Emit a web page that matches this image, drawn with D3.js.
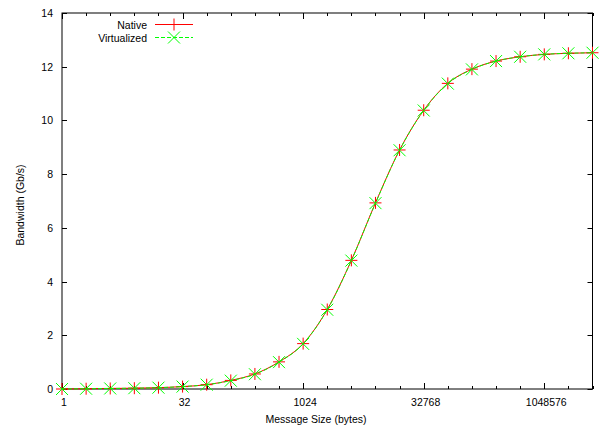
<!DOCTYPE html>
<html><head><meta charset="utf-8">
<script src="https://cdn.jsdelivr.net/npm/d3@7"></script>
<style>body{margin:0;background:#fff}text{font-family:"Liberation Sans",Arial,sans-serif;font-size:10.5px;fill:#000}</style>
</head><body><svg id="c" width="600" height="428"></svg>
<script>
const exponents = [0,1,2,3,4,5,6,7,8,9,10,11,12,13,14,15,16,17,18,19,20,21,22];
const sizes = exponents.map(e => Math.pow(2, e));
const nativeBW = [0.0,0.01,0.02,0.03,0.05,0.09,0.16,0.32,0.56,1.01,1.69,2.96,4.79,6.93,8.90,10.38,11.38,11.91,12.21,12.37,12.46,12.50,12.52];
const virtBW   = [0.0,0.01,0.02,0.03,0.05,0.09,0.16,0.31,0.55,1.00,1.68,2.95,4.78,6.92,8.89,10.37,11.37,11.90,12.21,12.37,12.46,12.50,12.52];
const xTickVals = [1,32,1024,32768,1048576];
const yTickVals = [0,2,4,6,8,10,12,14];
const seriesNames = ["Native","Virtualized"];

const svg = d3.select("#c");
const L=62,R=592.5,T=13,B=389;
const x = d3.scaleLog().base(2).domain([1,Math.pow(2,22)]).range([L,R]);
const y = d3.scaleLinear().domain([0,14]).range([B,T]);
const g = svg.append("g");

g.append("rect").attr("x",L).attr("y",T).attr("width",R-L).attr("height",B-T)
 .attr("fill","none").attr("stroke","#000").attr("stroke-width",1);

sizes.forEach(s=>{
  const major = xTickVals.includes(s);
  const len = major?6:3;
  const px = Math.round(x(s))+0.5;
  g.append("line").attr("x1",px).attr("x2",px).attr("y1",B).attr("y2",B-len).attr("stroke","#000");
  g.append("line").attr("x1",px).attr("x2",px).attr("y1",T).attr("y2",T+len).attr("stroke","#000");
});
xTickVals.forEach(s=>{
  g.append("text").attr("x",x(s)+2).attr("y",406).attr("text-anchor","middle").text(s);
});
yTickVals.forEach(v=>{
  const py = Math.round(y(v))+0.5;
  g.append("line").attr("x1",L).attr("x2",L+5).attr("y1",py).attr("y2",py).attr("stroke","#000");
  g.append("line").attr("x1",R).attr("x2",R-5).attr("y1",py).attr("y2",py).attr("stroke","#000");
  g.append("text").attr("x",53).attr("y",y(v)+4).attr("text-anchor","end").text(v);
});

g.append("text").attr("x",316).attr("y",423).attr("text-anchor","middle").text("Message Size (bytes)");
g.append("text").attr("transform","translate(24,205) rotate(-90)").attr("text-anchor","middle").text("Bandwidth (Gb/s)");

const line = d3.line().x((d,i)=>x(sizes[i])).y(d=>y(d)).curve(d3.curveMonotoneX);

function plus(sel,cx,cy,col){
  sel.append("path").attr("d",`M${cx-6},${cy}H${cx+6}M${cx},${cy-6}V${cy+6}`).attr("stroke",col).attr("stroke-width",1).attr("fill","none");
}
function cross(sel,cx,cy,col){
  sel.append("path").attr("d",`M${cx-6},${cy-6}L${cx+6},${cy+6}M${cx-6},${cy+6}L${cx+6},${cy-6}`).attr("stroke",col).attr("stroke-width",1).attr("fill","none");
}

g.append("path").datum(nativeBW).attr("d",line).attr("fill","none").attr("stroke","#ff0000").attr("stroke-width",1);
nativeBW.forEach((v,i)=>plus(g,x(sizes[i]),y(v),"#ff0000"));
g.append("path").datum(virtBW).attr("d",line).attr("fill","none").attr("stroke","#00ff00").attr("stroke-width",1).attr("stroke-dasharray","4,2");
virtBW.forEach((v,i)=>cross(g,x(sizes[i]),y(v),"#00ff00"));

g.append("text").attr("x",147).attr("y",28.5).attr("text-anchor","end").text(seriesNames[0]);
g.append("line").attr("x1",155).attr("x2",193).attr("y1",24.5).attr("y2",24.5).attr("stroke","#ff0000");
plus(g,174,24.5,"#ff0000");
g.append("text").attr("x",147).attr("y",41.5).attr("text-anchor","end").text(seriesNames[1]);
g.append("line").attr("x1",155).attr("x2",193).attr("y1",37.5).attr("y2",37.5).attr("stroke","#00ff00").attr("stroke-width",1.2).attr("stroke-dasharray","4,2");
cross(g,174,37.5,"#00ff00");
</script></body></html>
